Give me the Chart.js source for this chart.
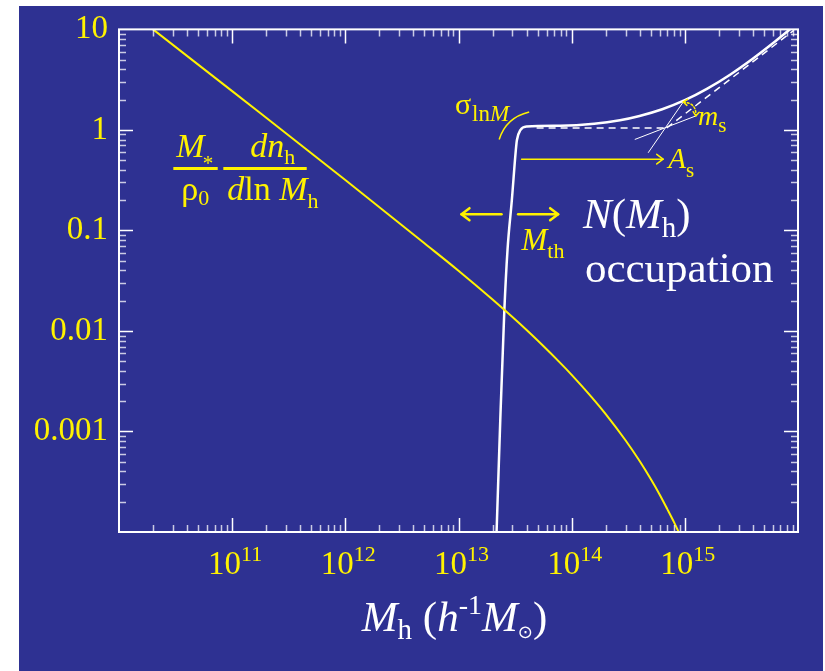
<!DOCTYPE html>
<html>
<head>
<meta charset="utf-8">
<script src="https://cdn.jsdelivr.net/npm/chart.js@4.4.1/dist/chart.umd.min.js"></script>
<style>
    body { margin: 0; background: #ffffff; }
    #quadro { position: absolute; left: 19px; top: 6px; width: 804px; height: 665px; background: #2e3192; }
</style>
</head>
<body>
<div id="quadro"><canvas id="grafico" width="804" height="665"></canvas></div>
<script>
// halo mass function  M*/rho0 dn/dlnM
var massaM   = [1.5e10, 2e10, 1e11, 1e12, 5e12, 1e13, 2e13, 4e13, 8e13, 1e14, 1.5e14, 2e14, 3e14, 4e14, 5e14, 6e14, 7e14, 8e14, 9e14, 1e15];
var massaVal = [12.85, 10, 2.43, 0.318, 0.0745, 0.0397, 0.0205, 0.0102, 0.00476, 0.00366, 0.0022, 0.00149, 0.000813, 0.000505, 0.000336, 0.000235, 0.000169, 0.000126, 0.000095, 0.000073];

// occupation N(Mh)
var ocupM = [2.13e13, 2.17e13, 2.34e13, 2.54e13, 2.71e13, 2.96e13, 3.21e13, 3.28e13, 3.52e13, 4.02e13, 7.94e13, 1.58e14, 2.67e14, 3.98e14, 6.31e14, 1e15, 1.58e15, 2.51e15, 3.98e15, 6.31e15, 7.94e15, 1e16];
var ocupN = [5.4e-5, 1e-4, 0.00131, 0.0158, 0.0638, 0.2, 0.628, 0.79, 0.993, 1.08, 1.10, 1.15, 1.246, 1.374, 1.604, 1.974, 2.573, 3.539, 5.10, 7.615, 9.40, 11.68];

// guide lines (dashed plateau, dashed asymptote, two thin slope lines)
var plateauM = [4.9e13, 6.92e14];
var plateauN = [1.047, 1.047];
var assintM = [6.92e14, 9.2e15];
var assintN = [1.047, 9.8];
var reta1M = [3.61e14, 1.25e15];
var reta1N = [0.803, 1.377];
var reta2M = [4.74e14, 9.68e14];
var reta2N = [0.592, 1.897];

var xTicks = [1e11, 1e12, 1e13, 1e14, 1e15];
var xTickExp = ['11', '12', '13', '14', '15'];
var yTicks = [0.001, 0.01, 0.1, 1, 10];
var yTickLabels = ['0.001', '0.01', '0.1', '1', '10'];

var fonte = "'Liberation Serif', 'Times New Roman', serif";
var amarelo = '#fff200';
var branco = '#ffffff';

function pares(xs, ys) {
    var out = [];
    for (let i = 0; i < xs.length; i++) {
        out.push({x: xs[i], y: ys[i]});
    }
    return out;
}

// draws a run of text pieces (sub/superscripts through dy)
function texto(ctx, x, y, partes, cor, alinhar) {
    var largura = 0;
    partes.forEach(function (p) {
        ctx.font = (p.i ? 'italic ' : '') + p.s + 'px ' + (p.f || fonte);
        p.w = ctx.measureText(p.t).width;
        largura += p.w + (p.dx || 0);
    });
    var cx = alinhar === 'center' ? x - largura / 2 : x;
    ctx.fillStyle = cor;
    ctx.textAlign = 'left';
    ctx.textBaseline = 'alphabetic';
    partes.forEach(function (p) {
        cx += p.dx || 0;
        ctx.font = (p.i ? 'italic ' : '') + p.s + 'px ' + (p.f || fonte);
        ctx.fillText(p.t, cx, y + (p.dy || 0));
        cx += p.w;
    });
}

function cabeca(ctx, x, y, ang, tam) {
    ctx.beginPath();
    ctx.moveTo(x - tam * Math.cos(ang - 0.65), y - tam * Math.sin(ang - 0.65));
    ctx.lineTo(x, y);
    ctx.lineTo(x - tam * Math.cos(ang + 0.65), y - tam * Math.sin(ang + 0.65));
    ctx.stroke();
}

function seta(ctx, x1, y1, x2, y2, tam, larg) {
    ctx.strokeStyle = amarelo;
    ctx.lineWidth = larg;
    ctx.lineCap = 'round';
    ctx.lineJoin = 'round';
    ctx.setLineDash([]);
    ctx.beginPath();
    ctx.moveTo(x1, y1);
    ctx.lineTo(x2, y2);
    ctx.stroke();
    cabeca(ctx, x2, y2, Math.atan2(y2 - y1, x2 - x1), tam);
}

var desenhos = {
    id: 'desenhos',
    afterDatasetsDraw: function (chart) {
        var ctx = chart.ctx;
        var ca = chart.chartArea;
        var sx = chart.scales.x;
        var sy = chart.scales.y;
        var px = function (m) { return sx.getPixelForValue(m); };
        var py = function (v) { return sy.getPixelForValue(v); };
        ctx.save();

        // frame
        ctx.strokeStyle = branco;
        ctx.lineWidth = 2;
        ctx.strokeRect(ca.left, ca.top, ca.right - ca.left, ca.bottom - ca.top);

        // inward ticks on all four sides
        for (let k = 10; k < 16; k++) {
            for (let j = 1; j < 10; j++) {
                var v = j * Math.pow(10, k);
                if (v <= sx.min * 1.0001 || v >= sx.max * 0.9999) continue;
                var x = Math.round(px(v)) + 0.5;
                var len = j === 1 ? 14 : 7;
                ctx.strokeStyle = j === 1 ? branco : 'rgba(255,255,255,0.75)';
                ctx.lineWidth = 1.5;
                ctx.beginPath();
                ctx.moveTo(x, ca.bottom); ctx.lineTo(x, ca.bottom - len);
                ctx.moveTo(x, ca.top); ctx.lineTo(x, ca.top + len);
                ctx.stroke();
            }
        }
        for (let k = -4; k < 1; k++) {
            for (let j = 1; j < 10; j++) {
                var w = j * Math.pow(10, k);
                if (w <= sy.min * 1.0001 || w >= sy.max * 0.9999) continue;
                var y = Math.round(py(w)) + 0.5;
                var len2 = j === 1 ? 14 : 7;
                ctx.strokeStyle = j === 1 ? branco : 'rgba(255,255,255,0.75)';
                ctx.lineWidth = 1.5;
                ctx.beginPath();
                ctx.moveTo(ca.left, y); ctx.lineTo(ca.left + len2, y);
                ctx.moveTo(ca.right, y); ctx.lineTo(ca.right - len2, y);
                ctx.stroke();
            }
        }

        // x tick labels 10^n
        for (let i = 0; i < xTicks.length; i++) {
            texto(ctx, px(xTicks[i]) + 3, ca.bottom + 42, [
                {t: '10', s: 33},
                {t: xTickExp[i], s: 22, dy: -12.6}
            ], amarelo, 'center');
        }

        // x axis title
        texto(ctx, (ca.left + ca.right) / 2 - 4, ca.bottom + 99, [
            {t: 'M', s: 43, i: 1},
            {t: 'h', s: 29, dy: 8},
            {t: ' (', s: 43},
            {t: 'h', s: 43, i: 1},
            {t: '-1', s: 28, dy: -17},
            {t: 'M', s: 43, i: 1},
            {t: '\u2299', s: 18, dy: 7, f: "'DejaVu Sans', sans-serif"},
            {t: ')', s: 43}
        ], branco, 'center');

        // M*/rho0 dn/dlnM
        var fx = px(3.02e10), fy = py(0.414);
        ctx.strokeStyle = amarelo;
        ctx.lineWidth = 3;
        ctx.beginPath();
        ctx.moveTo(fx, fy); ctx.lineTo(fx + 44.4, fy);
        ctx.moveTo(fx + 50, fy); ctx.lineTo(fx + 133.4, fy);
        ctx.stroke();
        texto(ctx, fx + 3, fy - 11, [{t: 'M', s: 34, i: 1}, {t: '*', s: 21, dy: 12.7, dx: -2}], amarelo);
        texto(ctx, fx + 8, fy + 32, [{t: 'ρ', s: 34}, {t: '0', s: 22, dy: 5}], amarelo);
        texto(ctx, fx + 77, fy - 11, [{t: 'dn', s: 34, i: 1}, {t: 'h', s: 22, dy: 7}], amarelo);
        texto(ctx, fx + 54, fy + 32, [
            {t: 'd', s: 34, i: 1}, {t: 'ln ', s: 34}, {t: 'M', s: 34, i: 1}, {t: 'h', s: 22, dy: 8}
        ], amarelo);

        // sigma lnM with its little arc
        var gx = px(9.29e12), gy = py(1.455);
        texto(ctx, gx, gy, [{t: 'σ', s: 30}, {t: 'ln', s: 23, dy: 7.4, dx: 1}, {t: 'M', s: 23, i: 1, dy: 7.4}], amarelo);
        ctx.strokeStyle = amarelo;
        ctx.lineWidth = 1.5;
        ctx.beginPath();
        ctx.moveTo(gx + 44.3, gy + 26);
        ctx.quadraticCurveTo(gx + 51, gy + 4, gx + 74.3, gy - 1.6);
        ctx.stroke();

        // M_th arrows
        var tx = px(2.84e13), ty = py(0.145);
        seta(ctx, tx - 8.3, ty, tx - 48.3, ty, 10, 2.5);
        seta(ctx, tx + 8.3, ty, tx + 48.3, ty, 10, 2.5);
        texto(ctx, tx + 11.7, ty + 36, [{t: 'M', s: 31, i: 1}, {t: 'th', s: 22, dy: 8}], amarelo);

        // A_s arrow
        seta(ctx, px(3.61e13), py(0.512), px(6.43e14), py(0.512), 8, 1.5);
        texto(ctx, px(7.13e14), py(0.414), [{t: 'A', s: 29, i: 1}, {t: 's', s: 21, dy: 8.4}], amarelo);

        // m_s angle
        var ax1 = px(9.68e14), ay1 = py(1.897), ax2 = px(1.25e15), ay2 = py(1.377);
        ctx.strokeStyle = amarelo;
        ctx.lineWidth = 1.5;
        ctx.setLineDash([2, 2]);
        ctx.beginPath();
        ctx.moveTo(ax1, ay1);
        ctx.quadraticCurveTo(ax1 + 13.7, ay1 + 1.3, ax2, ay2);
        ctx.stroke();
        ctx.setLineDash([]);
        cabeca(ctx, ax1, ay1, Math.atan2(ay1 - (ay1 + 1.3), ax1 - (ax1 + 13.7)), 5);
        cabeca(ctx, ax2, ay2, Math.atan2(ay2 - (ay1 + 1.3), ax2 - (ax1 + 13.7)), 5);
        texto(ctx, px(1.31e15), py(1.114), [{t: 'm', s: 28, i: 1}, {t: 's', s: 21, dy: 6.7}], amarelo);

        // N(Mh) occupation
        texto(ctx, px(1.26e14), py(0.105), [
            {t: 'N', s: 43, i: 1}, {t: '(', s: 43}, {t: 'M', s: 43, i: 1}, {t: 'h', s: 29, dy: 8.4}, {t: ')', s: 43}
        ], branco);
        texto(ctx, px(1.31e14), py(0.031), [{t: 'occupation', s: 43}], branco);

        ctx.restore();
    }
};

var ctx = document.getElementById('grafico');

var myChart = new Chart(ctx, {
    type: 'line',
    data: {
        datasets: [{
            data: pares(massaM, massaVal),
            borderColor: amarelo,
            borderWidth: 2,
            cubicInterpolationMode: 'monotone'
        }, {
            data: pares(ocupM, ocupN),
            borderColor: branco,
            borderWidth: 2.5,
            cubicInterpolationMode: 'monotone'
        }, {
            data: pares(plateauM, plateauN),
            borderColor: branco,
            borderWidth: 1.5,
            borderDash: [7, 5]
        }, {
            data: pares(assintM, assintN),
            borderColor: branco,
            borderWidth: 1.5,
            borderDash: [7, 5]
        }, {
            data: pares(reta1M, reta1N),
            borderColor: branco,
            borderWidth: 1
        }, {
            data: pares(reta2M, reta2N),
            borderColor: branco,
            borderWidth: 1
        }]
    },
    options: {
        responsive: false,
        animation: false,
        events: [],
        elements: {point: {radius: 0}},
        layout: {padding: {top: 23, right: 25, left: 0, bottom: 0}},
        plugins: {
            legend: {display: false},
            tooltip: {enabled: false}
        },
        scales: {
            x: {
                type: 'logarithmic',
                position: 'bottom',
                min: 1e10,
                max: 1e16,
                grid: {display: false, drawTicks: false},
                border: {display: false},
                ticks: {display: false},
                afterFit: function (s) { s.height = 139; }
            },
            y: {
                type: 'logarithmic',
                position: 'left',
                min: 1e-4,
                max: 10,
                grid: {display: false, drawTicks: false},
                border: {display: false},
                afterBuildTicks: function (s) {
                    s.ticks = yTicks.map(function (v) { return {value: v}; });
                },
                ticks: {
                    padding: 11,
                    color: amarelo,
                    font: {family: fonte, size: 33, lineHeight: 0.75},
                    callback: function (v, i) { return yTickLabels[i]; }
                },
                afterFit: function (s) { s.width = 100; }
            }
        }
    },
    plugins: [desenhos]
});
</script>
</body>
</html>
